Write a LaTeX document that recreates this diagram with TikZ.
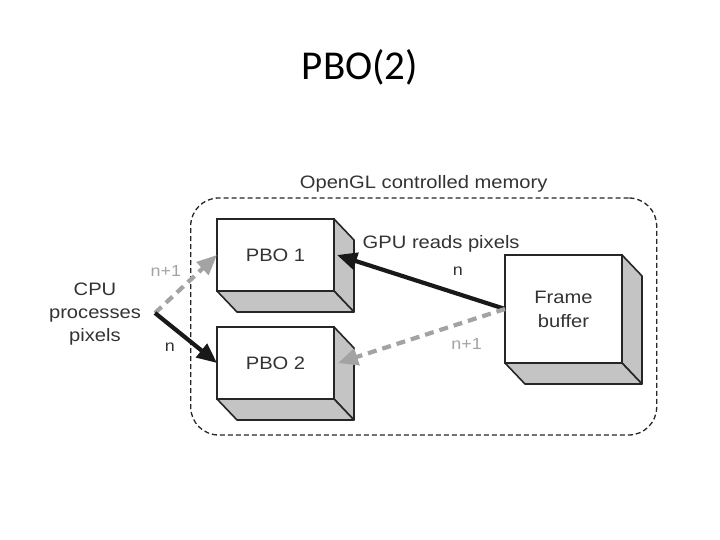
\documentclass[tikz,border=0pt]{standalone}
\usepackage{fontspec}
\newfontfamily\diagfont[FakeStretch=1.12]{Liberation Sans}
\newfontfamily\titlefont{Carlito}
\usetikzlibrary{%
    arrows.meta,
    calc,
    positioning
}
\definecolor{boxline}{HTML}{262626}
\definecolor{sidegray}{HTML}{C4C4C4}
\definecolor{lategray}{HTML}{A3A3A3}
\definecolor{textgray}{HTML}{333333}
\tikzset{pbobox/.style = {draw=boxline, line width=1.6pt, fill=white, outer sep=0pt,
                          minimum width=117pt, align=center, text=textgray,
                          font=\diagfont\fontsize{18}{24}\selectfont}}
\tikzset{boxside/.style = {draw=boxline, line width=1.6pt, fill=sidegray, line join=round}}
\tikzset{nowarrow/.style = {line width=4.2pt, black!90, -{Triangle[length=20pt,width=17pt]}}}
\tikzset{nextarrow/.style = {line width=4.2pt, lategray, dash pattern=on 9pt off 6pt,
                             -{Triangle[length=20pt,width=17pt]}}}
\tikzset{steplabel/.style = {font=\diagfont\fontsize{16}{18}\selectfont, inner sep=1pt}}

\begin{document}
\begin{tikzpicture}[x=1pt,y=1pt]
    \useasboundingbox[fill=white] (0,0) rectangle (720,540);
    \node (title) [anchor=base, font=\titlefont\fontsize{41}{48}\selectfont] at (360,460) {PBO(2)};

    \node (mem) [draw=boxline, line width=1.3pt, dash pattern=on 5pt off 3pt, rounded corners=28pt,
                 minimum width=466pt, minimum height=237pt] at (423.7,223.5) {};
    \node (memlabel) [above=4pt of mem, inner sep=1pt, text=textgray,
                      font=\diagfont\fontsize{18}{24}\selectfont] {OpenGL controlled memory};

    \node (pbo1) [pbobox, minimum height=72pt] at (275.5,285) {PBO 1};
    \node (pbo2) [pbobox, minimum height=72pt, below=36pt of pbo1] {PBO 2};
    \node (fb) [pbobox, minimum height=108pt] at (563.5,231) {Frame\\buffer};

    % depth of the boxes
    \foreach \b in {pbo1,pbo2,fb} {
        \filldraw[boxside] (\b.north east) -- ++(20,-21) -- ($(\b.south east)+(20,-21)$) -- (\b.south east) -- cycle;
        \filldraw[boxside] (\b.south west) -- ++(20,-21) -- ($(\b.south east)+(20,-21)$) -- (\b.south east) -- cycle;
    }

    \node (cpu) [align=center, text=textgray, font=\diagfont\fontsize{18}{23}\selectfont] at (95,226) {CPU\\processes\\pixels};
    \coordinate (cpuout) at (155,227);

    \draw[nextarrow] (cpuout) -- node [steplabel, text=lategray, pos=0.47, above left=6pt and 0pt] {n+1} (pbo1.west);
    \draw[nowarrow] (cpuout) -- node [steplabel, text=textgray, pos=0.37, below left=8pt and 0pt] {n} (pbo2.west);
    \draw[nowarrow] (fb.west) -- node [steplabel, text=textgray, pos=0.28, above=15pt] {n}
        node [text=textgray, inner sep=1pt, font=\diagfont\fontsize{18}{24}\selectfont, pos=0.38, above=33pt] {GPU reads pixels}
        ($(pbo1.east)+(3,0)$);
    \draw[nextarrow] (fb.west) -- node [steplabel, text=lategray, pos=0.23, below=14pt] {n+1} ($(pbo2.east)+(4,0)$);
\end{tikzpicture}
\end{document}
